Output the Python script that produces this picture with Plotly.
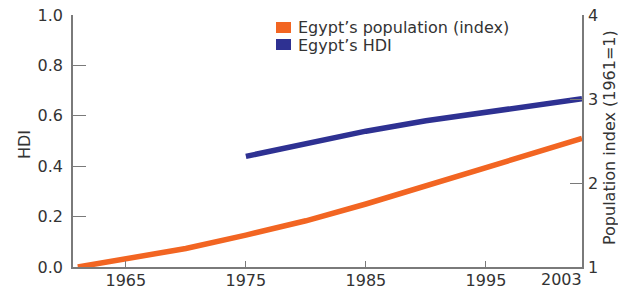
import plotly.graph_objects as go

pop_years = [1961, 1965, 1970, 1975, 1980, 1985, 1990, 1995, 2000, 2003]
pop_index = [1.0, 1.10, 1.22, 1.38, 1.55, 1.75, 1.97, 2.18, 2.40, 2.53]

hdi_years = [1975, 1980, 1985, 1990, 1995, 2000, 2003]
hdi_values = [0.439, 0.490, 0.539, 0.580, 0.612, 0.648, 0.668]

x_ticks = [1965, 1975, 1985, 1995, 2003]
x_ticklabels = ["1965", "1975", "1985", "1995", "2003"]
hdi_ticks = [0.0, 0.2, 0.4, 0.6, 0.8, 1.0]
pop_ticks = [1, 2, 3, 4]

series_names = ["Egypt\u2019s population (index)", "Egypt\u2019s HDI"]

ORANGE = "#F26522"
NAVY = "#2E3192"
AXIS = "#7a7a7a"
TEXT = "#333333"
FONT = "DejaVu Sans, sans-serif"
FS = 16

W, H = 618, 288
L, R, T, B = 73, 36, 15, 21
PW, PH = W - L - R, H - T - B


def px(x):
    return (x - L) / PW


def py(y):
    return (H - B - y) / PH


# the last x label is right-aligned to the axis end, drawn as an annotation
x_ticktext = x_ticklabels[:-1] + [""]

fig = go.Figure()
fig.add_trace(go.Scatter(x=pop_years, y=pop_index, mode="lines", yaxis="y2",
                         name=series_names[0],
                         line=dict(color=ORANGE, width=5.5), showlegend=False))
fig.add_trace(go.Scatter(x=hdi_years, y=hdi_values, mode="lines", yaxis="y",
                         name=series_names[1],
                         line=dict(color=NAVY, width=5.5), showlegend=False))

# legend: colour swatches + labels
shapes = []
annotations = []
legend_rows = [(ORANGE, 22, 33, 27.5), (NAVY, 39, 50, 45)]
for (col, top, bot, mid), name in zip(legend_rows, series_names):
    shapes.append(dict(type="rect", xref="paper", yref="paper",
                       x0=px(276), x1=px(291), y0=py(bot), y1=py(top),
                       fillcolor=col, line=dict(width=0)))
    annotations.append(dict(text=name, xref="paper", yref="paper",
                            x=px(296), y=py(mid), xanchor="left", yanchor="middle",
                            showarrow=False, font=dict(family=FONT, size=FS, color=TEXT)))

annotations.append(dict(text=x_ticklabels[-1], xref="x", yref="paper",
                        x=x_ticks[-1], y=py(279.5), xanchor="right", yanchor="middle",
                        xshift=2, showarrow=False,
                        font=dict(family=FONT, size=FS, color=TEXT)))

annotations.append(dict(text="HDI", xref="paper", yref="paper", x=px(24), y=py(145),
                        xanchor="center", yanchor="middle", textangle=-90,
                        showarrow=False, font=dict(family=FONT, size=FS, color=TEXT)))
annotations.append(dict(text="Population index (1961=1)", xref="paper", yref="paper",
                        x=px(609), y=py(138), xanchor="center", yanchor="middle",
                        textangle=-90, showarrow=False,
                        font=dict(family=FONT, size=FS, color=TEXT)))

fig.update_layout(
    width=W, height=H,
    margin=dict(l=L, r=R, t=T, b=B, autoexpand=False),
    paper_bgcolor="white", plot_bgcolor="white",
    font=dict(family=FONT, size=FS, color=TEXT),
    showlegend=False,
    shapes=shapes,
    annotations=annotations,
    xaxis=dict(range=[1960.6, 2003], tickmode="array", tickvals=x_ticks,
               ticktext=x_ticktext, ticklabeloverflow="allow",
               ticks="inside", ticklen=6, tickcolor=AXIS, tickwidth=1.2,
               showline=True, linecolor=AXIS, linewidth=1.5, showgrid=False,
               zeroline=False, automargin=False, ticklabelstandoff=-2,
               tickfont=dict(size=FS, color=TEXT)),
    yaxis=dict(range=[0, 1], tickmode="array", tickvals=hdi_ticks,
               ticktext=[f"{v:.1f}" for v in hdi_ticks],
               ticks="inside", ticklen=13, tickcolor=AXIS, tickwidth=1.2,
               showline=True, linecolor=AXIS, linewidth=1.5, showgrid=False,
               zeroline=False, automargin=False, ticklabelstandoff=5,
               tickfont=dict(size=FS, color=TEXT)),
    yaxis2=dict(range=[1, 4], overlaying="y", side="right", tickmode="array",
                tickvals=pop_ticks, ticks="inside", ticklen=12, tickcolor=AXIS,
                tickwidth=1.2, showline=True, linecolor=AXIS, linewidth=1.5,
                showgrid=False, zeroline=False, automargin=False,
                ticklabelstandoff=1,
                tickfont=dict(size=FS, color=TEXT)),
)

fig.write_html("out.html", config={"displayModeBar": False},
               post_script="document.body.style.margin='0';document.body.style.overflow='hidden';")
